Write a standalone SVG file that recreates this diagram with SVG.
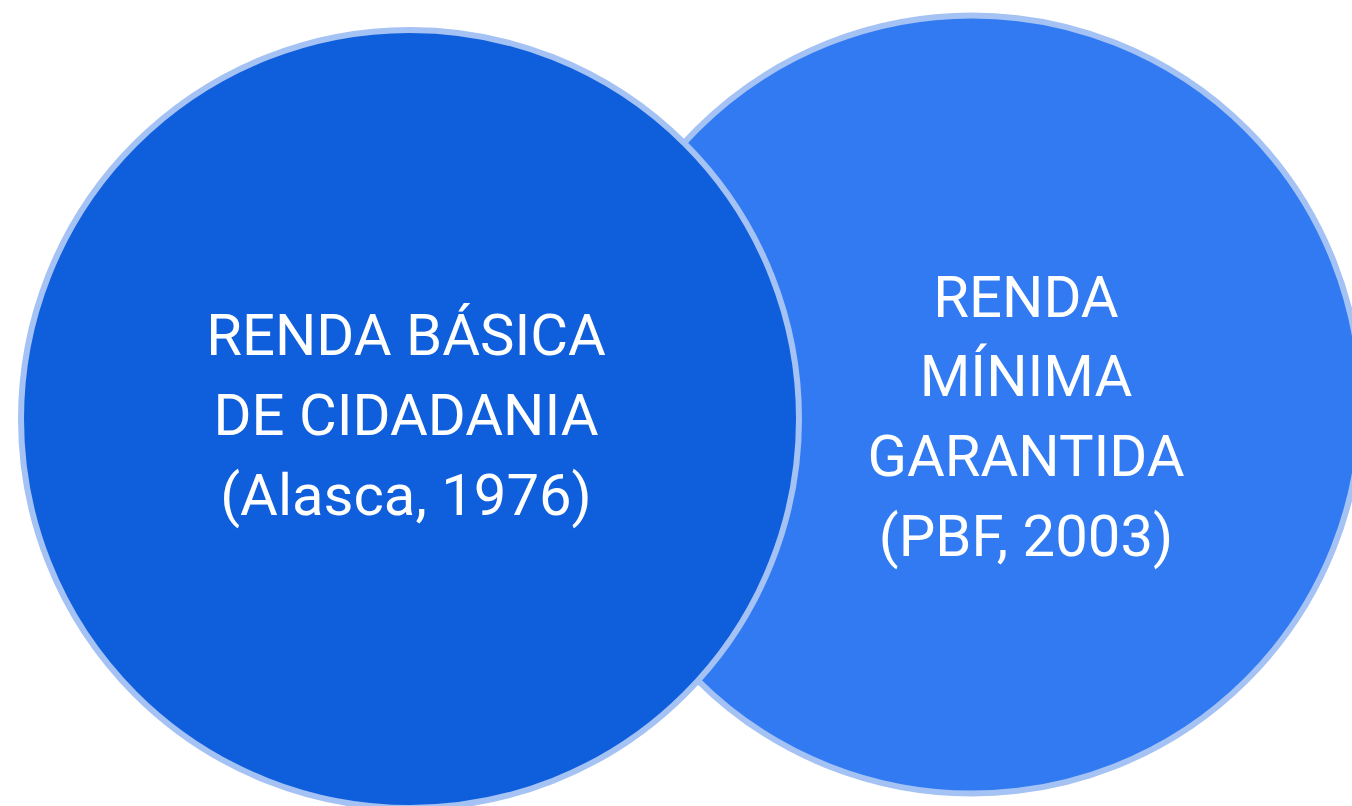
<svg xmlns="http://www.w3.org/2000/svg" width="1352" height="806" viewBox="0 0 1352 806">
<style>
.circ{stroke:#a4c2f4;stroke-width:6}
.lbl{font-family:Roboto,"Liberation Sans",sans-serif;font-size:58px;fill:#ffffff;text-anchor:middle}
</style>
<rect width="1352" height="806" fill="#ffffff"/>
<g id="node-minima">
<circle class="circ" cx="972" cy="404.5" r="389" fill="#317af2"/>
<text class="lbl" x="1026" y="317">RENDA</text>
<text class="lbl" x="1026" y="396">MÍNIMA</text>
<text class="lbl" x="1026" y="476">GARANTIDA</text>
<text class="lbl" x="1026" y="556">(PBF, 2003)</text>
</g>
<g id="node-basica">
<circle class="circ" cx="410" cy="419" r="389" fill="#0f5edc"/>
<text class="lbl" x="406" y="355">RENDA BÁSICA</text>
<text class="lbl" x="406" y="435">DE CIDADANIA</text>
<text class="lbl" x="406" y="515">(Alasca, 1976)</text>
</g>
<g id="connectors"></g>
</svg>
